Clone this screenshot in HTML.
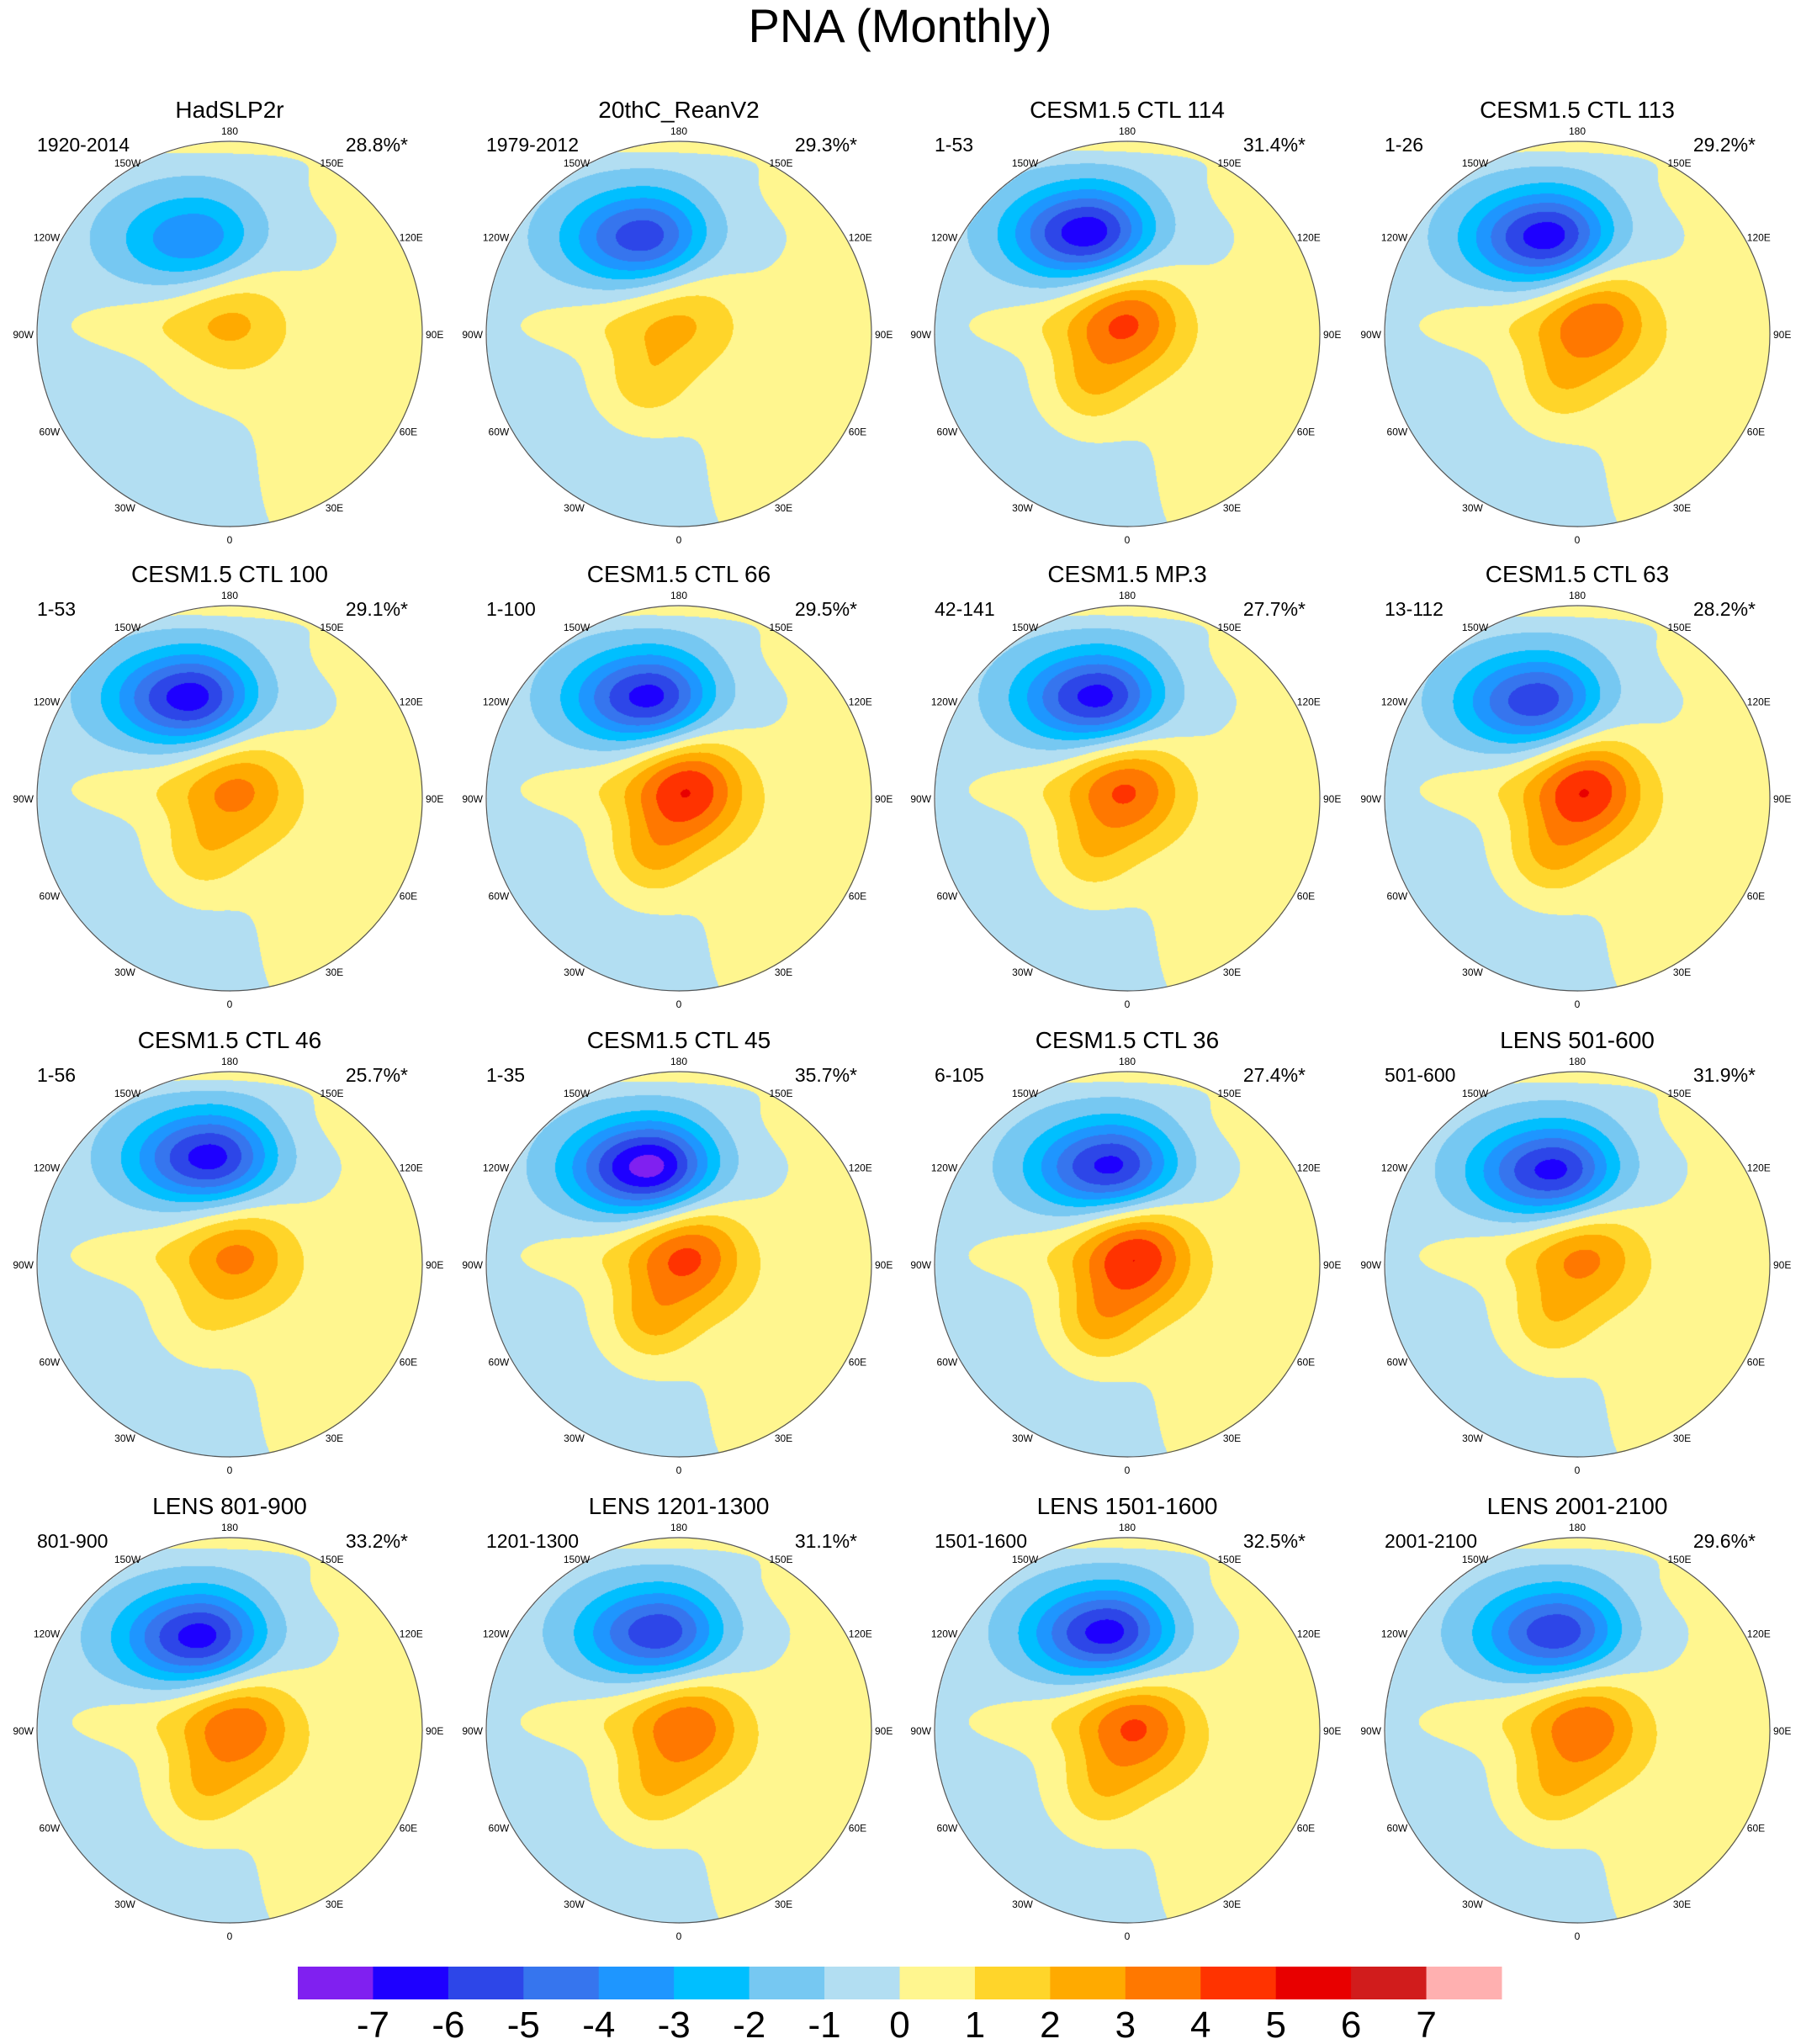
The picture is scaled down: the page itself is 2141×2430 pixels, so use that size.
<!DOCTYPE html>
<html><head><meta charset="utf-8">
<style>
html,body{margin:0;padding:0;background:#fff;}
#wrap{position:relative;width:2141px;height:2430px;overflow:hidden;font-family:"Liberation Sans",sans-serif;}
canvas,svg{position:absolute;left:0;top:0;}
</style></head>
<body>
<div id="wrap">
<canvas id="cv" width="2141" height="2430"></canvas>
<svg id="sv" width="2141" height="2430"></svg>
</div>
<script>
const panelTitles=["HadSLP2r","20thC_ReanV2","CESM1.5 CTL 114","CESM1.5 CTL 113","CESM1.5 CTL 100","CESM1.5 CTL 66","CESM1.5 MP.3","CESM1.5 CTL 63","CESM1.5 CTL 46","CESM1.5 CTL 45","CESM1.5 CTL 36","LENS 501-600","LENS 801-900","LENS 1201-1300","LENS 1501-1600","LENS 2001-2100"];
const periods=["1920-2014","1979-2012","1-53","1-26","1-53","1-100","42-141","13-112","1-56","1-35","6-105","501-600","801-900","1201-1300","1501-1600","2001-2100"];
const variances=["28.8%*","29.3%*","31.4%*","29.2%*","29.1%*","29.5%*","27.7%*","28.2%*","25.7%*","35.7%*","27.4%*","31.9%*","33.2%*","31.1%*","32.5%*","29.6%*"];
const lowAmps=[-3.6,-5.4,-6.5,-6.4,-6.3,-6.2,-6.2,-5.5,-6.2,-7.3,-6.2,-6.2,-6.3,-5.6,-6.3,-5.6];
const lowX=[-0.18,-0.18,-0.2,-0.15,-0.2,-0.15,-0.15,-0.2,-0.1,-0.15,-0.08,-0.12,-0.15,-0.1,-0.1,-0.1];
const lowY=[-0.49,-0.5,-0.52,-0.5,-0.52,-0.52,-0.52,-0.5,-0.55,-0.5,-0.5,-0.48,-0.48,-0.5,-0.5,-0.5];
const highAmps=[1.6,1.5,3.5,3.3,2.6,4.3,3.4,4.3,2.6,3.6,4.3,2.6,3.2,3.2,3.5,3.2];
const highX=[0.02,0.02,0.0,0.1,0.05,0.05,0.0,0.05,0.05,0.05,0.05,0.05,0.05,0.05,0.05,0.05];
const highY=[-0.08,-0.1,-0.08,-0.08,-0.05,-0.05,-0.05,-0.05,-0.05,-0.05,-0.05,-0.05,-0.02,-0.02,-0.02,-0.02];
const secondHigh=[0.0,1.0,0.5,0.45,0.55,0.45,0.45,0.45,0.3,0.55,0.5,0.6,0.5,0.5,0.45,0.5];
const cbLevels=[-7,-6,-5,-4,-3,-2,-1,0,1,2,3,4,5,6,7];
const cbColors=["#8020F0","#1E00FF","#2D46E8","#3675EE","#1E96FF","#00BFFF","#76C8F2","#B2DEF2","#FFF68F","#FFD52A","#FFAA00","#FF7800","#FF3300","#E80000","#D11C1C","#FFB0B0"];

const colX=[273,807,1340,1875], rowY=[397,949,1503,2057], R=229;
const NS="http://www.w3.org/2000/svg";
const sv=document.getElementById('sv');
function mk(tag,attrs,parent,text){const e=document.createElementNS(NS,tag);for(const k in attrs)e.setAttribute(k,attrs[k]);if(text!==undefined)e.textContent=text;(parent||sv).appendChild(e);return e;}
function rgb(h){return [parseInt(h.slice(1,3),16),parseInt(h.slice(3,5),16),parseInt(h.slice(5,7),16)];}
const cols=cbColors.map(rgb);
function G(dx,dy,sx,sy){return Math.exp(-(dx*dx/(2*sx*sx)+dy*dy/(2*sy*sy)));}
function field(u,v,i){
  let f=-0.5;
  f+=1.3*G(u-0.85,v-0.05,0.25,0.5);
  f+=1.2*G(u-0.5,v-0.75,0.25,0.35);
  f+=1.4*G(0,v+1.02,1,0.06);
  f+=0.7*G(u-0.6,v+0.8,0.2,0.15);
  f+=0.8*G(u+0.45,v+0.05,0.35,0.1);
  f+=0.9*G(u,v,0.35,0.3);
  const dx=u-lowX[i];
  f+=lowAmps[i]*G(dx,v-lowY[i],dx<0?0.28:0.22,0.17);
  f+=highAmps[i]*G(u-highX[i],v-highY[i],0.2,0.2);
  f+=secondHigh[i]*highAmps[i]*G(u-highX[i]+0.2,v-highY[i]-0.35,0.16,0.16);
  return f;
}
const cv=document.getElementById('cv'),ctx=cv.getContext('2d');
const img=ctx.createImageData(2141,2430),d=img.data;
for(let o=0;o<d.length;o+=4){d[o]=255;d[o+1]=255;d[o+2]=255;d[o+3]=255;}
for(let i=0;i<16;i++){
  const cx=colX[i%4],cy=rowY[Math.floor(i/4)];
  for(let py=-R;py<=R;py++)for(let px=-R;px<=R;px++){
    if(px*px+py*py>R*R)continue;
    const f=field(px/R,py/R,i);
    let k=Math.floor(f)+8;k=Math.max(0,Math.min(15,k));
    const c=cols[k],o=((cy+py)*2141+(cx+px))*4;
    d[o]=c[0];d[o+1]=c[1];d[o+2]=c[2];d[o+3]=255;
  }
}
ctx.putImageData(img,0,0);

mk('text',{x:1070,y:50,'font-size':56,'text-anchor':'middle',},sv,'PNA (Monthly)');
const lonLabels=[[180,'180'],[150,'150E'],[120,'120E'],[90,'90E'],[60,'60E'],[30,'30E'],[0,'0'],[-30,'30W'],[-60,'60W'],[-90,'90W'],[-120,'120W'],[-150,'150W']];
for(let i=0;i<16;i++){
  const cx=colX[i%4],cy=rowY[Math.floor(i/4)];
  const g=mk('g',{});
  
  
  mk('circle',{cx:cx,cy:cy,r:R,fill:'none',stroke:'#555','stroke-width':1.2,},g);
  mk('text',{x:cx,y:cy-257,'font-size':28,'text-anchor':'middle',},g,panelTitles[i]);
  mk('text',{x:cx-R,y:cy-217,'font-size':23,},g,periods[i]);
  mk('text',{x:cx+212,y:cy-217,'font-size':23,'text-anchor':'end',},g,variances[i]);
  for(const [L,t] of lonLabels){
    const a=L*Math.PI/180;
    let x=cx+Math.sin(a)*(R+8),y=cy+Math.cos(a)*(R+8)+5;
    let anchor='middle';
    if(Math.abs(L)===90){anchor=L>0?'start':'end';x=cx+(L>0?1:-1)*(R+4);}
    else if(L===180){y=cy-R-8;}
    else if(L===0){y=cy+R+20;}
    else if(L===150||L===-150){x=cx+Math.sin(a)*(R+14);y=cy+Math.cos(a)*(R+8)+6;}
    else if(L===120||L===-120){anchor=L>0?'start':'end';x=cx+Math.sin(a)*(R+4);y=cy+Math.cos(a)*(R+4)+6;}
    else if(L===60||L===-60){anchor=L>0?'start':'end';x=cx+Math.sin(a)*(R+4);y=cy+Math.cos(a)*(R+4)+4;}
    else {x=cx+Math.sin(a)*(R+20);y=cy+Math.cos(a)*(R+8)+6;}
    mk('text',{x:x,y:y,'font-size':12,'text-anchor':anchor,},g,t);
  }
}
const cb=mk('g',{});


const cbL=354,cbR=1785,cbT=2338,cbH=39,bw=(cbR-cbL)/cbColors.length;
cbColors.forEach((c,k)=>{
  mk('rect',{x:cbL+k*bw,y:cbT,width:bw+0.5,height:cbH,fill:c,},cb);
});
cbLevels.forEach((l,k)=>{
  mk('text',{x:cbL+(k+1)*bw,y:2422,'font-size':44,'text-anchor':'middle',},cb,String(l));
});
</script>
</body></html>
